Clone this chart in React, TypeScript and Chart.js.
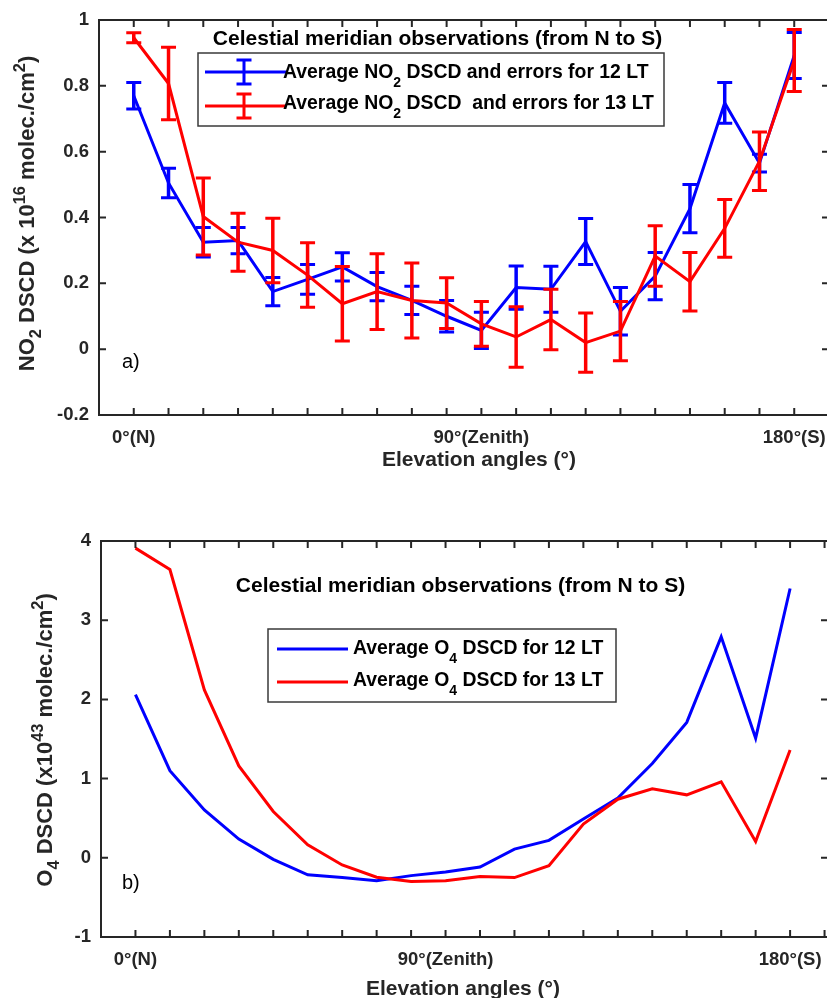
import React, { useEffect, useRef } from 'react';
import { Chart, registerables } from 'chart.js';

Chart.register(...registerables);

// ---------- data ----------
const angleIndex = [1, 2, 3, 4, 5, 6, 7, 8, 9, 10, 11, 12, 13, 14, 15, 16, 17, 18, 19, 20];

const no2Avg12 = [0.77, 0.505, 0.325, 0.33, 0.175, 0.212, 0.25, 0.19, 0.148, 0.1, 0.057, 0.187, 0.182, 0.327, 0.115, 0.222, 0.427, 0.748, 0.565, 0.892];
const no2Err12 = [0.04, 0.045, 0.045, 0.04, 0.043, 0.045, 0.043, 0.043, 0.043, 0.048, 0.055, 0.066, 0.07, 0.07, 0.072, 0.072, 0.073, 0.062, 0.027, 0.07];
const no2Avg13 = [0.946, 0.807, 0.403, 0.325, 0.3, 0.225, 0.138, 0.175, 0.148, 0.14, 0.077, 0.037, 0.09, 0.02, 0.055, 0.283, 0.205, 0.367, 0.571, 0.877];
const no2Err13 = [0.015, 0.11, 0.117, 0.088, 0.098, 0.098, 0.113, 0.115, 0.114, 0.077, 0.068, 0.092, 0.092, 0.09, 0.09, 0.092, 0.089, 0.088, 0.089, 0.094];

const o4Avg12 = [2.06, 1.1, 0.605, 0.237, -0.02, -0.215, -0.25, -0.29, -0.225, -0.18, -0.116, 0.11, 0.22, 0.49, 0.755, 1.19, 1.71, 2.79, 1.51, 3.4];
const o4Avg13 = [3.91, 3.64, 2.12, 1.16, 0.585, 0.164, -0.09, -0.245, -0.3, -0.29, -0.236, -0.25, -0.1, 0.425, 0.74, 0.87, 0.795, 0.96, 0.205, 1.36];

const xTickLabels = ['0°(N)', '90°(Zenith)', '180°(S)'];
const topTickPositions = [1, 11, 20];
const bottomTickPositions = [1, 10, 20];
const tickMarkPositions = [1, 2, 3, 4, 5, 6, 7, 8, 9, 10, 11, 12, 13, 14, 15, 16, 17, 18, 19, 20, 21];
const no2YTicks = [-0.2, 0, 0.2, 0.4, 0.6, 0.8, 1];
const o4YTicks = [-1, 0, 1, 2, 3, 4];

const panelTitle = 'Celestial meridian observations (from N to S)';
const xAxisTitle = 'Elevation angles (°)';

// ---------- styling ----------
const FONT = "'Liberation Sans', Arial, Helvetica, sans-serif";
const AXIS = '#262626';
const BLUE = '#0000ff';
const RED = '#ff0000';

type Part = { t: string; s: number; dy?: number; bold?: boolean };

function partsWidth(ctx: CanvasRenderingContext2D, parts: Part[]) {
  let w = 0;
  for (const p of parts) {
    ctx.font = `${p.bold === false ? '' : 'bold '}${p.s}px ${FONT}`;
    w += ctx.measureText(p.t).width;
  }
  return w;
}

function drawParts(ctx: CanvasRenderingContext2D, parts: Part[], x: number, y: number, align: 'left' | 'center') {
  const total = partsWidth(ctx, parts);
  let cx = align === 'center' ? x - total / 2 : x;
  ctx.textAlign = 'left';
  ctx.textBaseline = 'alphabetic';
  for (const p of parts) {
    ctx.font = `${p.bold === false ? '' : 'bold '}${p.s}px ${FONT}`;
    ctx.fillText(p.t, cx, y + (p.dy || 0));
    cx += ctx.measureText(p.t).width;
  }
}

type LegendRow = { color: string; lineY: number; baseline: number; parts: Part[]; errorBar: boolean };
type Decor = {
  title: { x: number; y: number };
  xTitle: { x: number; y: number };
  yTitle: { x: number; y: number; parts: Part[] };
  panelLabel: { text: string; x: number; y: number };
  legend: { box: [number, number, number, number]; lineX: [number, number]; barX: number; textX: number; rows: LegendRow[] };
  yTicks: number[];
};

function makeDecor(d: Decor) {
  return {
    id: 'decor',
    afterDatasetDraw(chart: any, args: any) {
      const ds = chart.data.datasets[args.index];
      const errs: number[] | undefined = ds.errors;
      if (!errs) return;
      const ctx = chart.ctx as CanvasRenderingContext2D;
      const xs = chart.scales.x;
      const ys = chart.scales.y;
      ctx.save();
      ctx.strokeStyle = ds.borderColor;
      ctx.lineCap = 'butt';
      const cap = 7.5;
      ds.data.forEach((p: any, i: number) => {
        const x = xs.getPixelForValue(p.x);
        const yt = ys.getPixelForValue(p.y + errs[i]);
        const yb = ys.getPixelForValue(p.y - errs[i]);
        ctx.lineWidth = 3.5;
        ctx.beginPath();
        ctx.moveTo(x, yt);
        ctx.lineTo(x, yb);
        ctx.stroke();
        ctx.lineWidth = 3;
        ctx.beginPath();
        ctx.moveTo(x - cap, yt);
        ctx.lineTo(x + cap, yt);
        ctx.moveTo(x - cap, yb);
        ctx.lineTo(x + cap, yb);
        ctx.stroke();
      });
      ctx.restore();
    },
    afterDraw(chart: any) {
      const ctx = chart.ctx as CanvasRenderingContext2D;
      const { left, right, top, bottom } = chart.chartArea;
      const xs = chart.scales.x;
      const ys = chart.scales.y;
      ctx.save();
      // axes box
      ctx.strokeStyle = AXIS;
      ctx.lineWidth = 2;
      ctx.strokeRect(left, top, right - left, bottom - top);
      // inward tick marks
      const tl = 7;
      ctx.beginPath();
      for (const v of tickMarkPositions) {
        const x = xs.getPixelForValue(v);
        ctx.moveTo(x, bottom);
        ctx.lineTo(x, bottom - tl);
        ctx.moveTo(x, top);
        ctx.lineTo(x, top + tl);
      }
      for (const v of d.yTicks) {
        const y = ys.getPixelForValue(v);
        ctx.moveTo(left, y);
        ctx.lineTo(left + tl, y);
        ctx.moveTo(right, y);
        ctx.lineTo(right - tl, y);
      }
      ctx.stroke();

      // panel title inside plot
      ctx.fillStyle = '#000';
      drawParts(ctx, [{ t: panelTitle, s: 21 }], d.title.x, d.title.y, 'center');

      // x axis title
      ctx.fillStyle = AXIS;
      drawParts(ctx, [{ t: xAxisTitle, s: 21 }], d.xTitle.x, d.xTitle.y, 'center');

      // y axis title (rotated)
      ctx.save();
      ctx.translate(d.yTitle.x, d.yTitle.y);
      ctx.rotate(-Math.PI / 2);
      drawParts(ctx, d.yTitle.parts, 0, 0, 'center');
      ctx.restore();

      // panel label
      ctx.fillStyle = '#000';
      drawParts(ctx, [{ t: d.panelLabel.text, s: 20, bold: false }], d.panelLabel.x, d.panelLabel.y, 'left');

      // legend
      const L = d.legend;
      const [bx0, by0, bx1, by1] = L.box;
      ctx.fillStyle = '#fff';
      ctx.fillRect(bx0, by0, bx1 - bx0, by1 - by0);
      ctx.strokeStyle = '#3a3a3a';
      ctx.lineWidth = 1.5;
      ctx.strokeRect(bx0, by0, bx1 - bx0, by1 - by0);
      for (const r of L.rows) {
        ctx.strokeStyle = r.color;
        ctx.lineWidth = 3;
        ctx.beginPath();
        ctx.moveTo(L.lineX[0], r.lineY);
        ctx.lineTo(L.lineX[1], r.lineY);
        if (r.errorBar) {
          const h = 12;
          const c = 7.5;
          ctx.moveTo(L.barX, r.lineY - h);
          ctx.lineTo(L.barX, r.lineY + h);
          ctx.moveTo(L.barX - c, r.lineY - h);
          ctx.lineTo(L.barX + c, r.lineY - h);
          ctx.moveTo(L.barX - c, r.lineY + h);
          ctx.lineTo(L.barX + c, r.lineY + h);
        }
        ctx.stroke();
        ctx.fillStyle = '#000';
        drawParts(ctx, r.parts, L.textX, r.baseline, 'left');
      }
      ctx.restore();
    },
  };
}

function tickFont() {
  return { family: FONT, size: 18.5, weight: 'bold' as const };
}

function buildConfig(opts: {
  avg12: number[];
  avg13: number[];
  err12?: number[];
  err13?: number[];
  yMin: number;
  yMax: number;
  yTicks: number[];
  labelPositions: number[];
  xMax: number;
  yWidth: number;
  xHeight: number;
  padding: { top: number; right: number; bottom: number; left: number };
  decor: Decor;
}) {
  const toPts = (arr: number[]) => angleIndex.map((x, i) => ({ x, y: arr[i] }));
  return {
    type: 'line' as const,
    data: {
      datasets: [
        {
          label: '12 LT',
          data: toPts(opts.avg12),
          borderColor: BLUE,
          backgroundColor: BLUE,
          borderWidth: 3,
          pointRadius: 0,
          tension: 0,
          order: 1,
          errors: opts.err12,
        },
        {
          label: '13 LT',
          data: toPts(opts.avg13),
          borderColor: RED,
          backgroundColor: RED,
          borderWidth: 3,
          pointRadius: 0,
          tension: 0,
          order: 0,
          errors: opts.err13,
        },
      ],
    },
    options: {
      animation: false as const,
      responsive: false,
      events: [] as any[],
      layout: { padding: opts.padding },
      plugins: {
        legend: { display: false },
        tooltip: { enabled: false },
        title: { display: false },
      },
      scales: {
        x: {
          type: 'linear' as const,
          min: 0,
          max: opts.xMax,
          afterBuildTicks: (s: any) => {
            s.ticks = opts.labelPositions.map((v) => ({ value: v }));
          },
          afterFit: (s: any) => {
            s.height = opts.xHeight;
            s.paddingLeft = 0;
            s.paddingRight = 0;
          },
          ticks: {
            autoSkip: false,
            maxRotation: 0,
            padding: 12,
            color: AXIS,
            font: tickFont(),
            callback: (v: any) => {
              const idx = opts.labelPositions.indexOf(Number(v));
              return idx >= 0 ? xTickLabels[idx] : '';
            },
          },
          grid: { display: false, drawTicks: false },
          border: { display: false },
        },
        y: {
          type: 'linear' as const,
          min: opts.yMin,
          max: opts.yMax,
          afterBuildTicks: (s: any) => {
            s.ticks = opts.yTicks.map((v) => ({ value: v }));
          },
          afterFit: (s: any) => {
            s.width = opts.yWidth;
            s.paddingTop = 0;
            s.paddingBottom = 0;
          },
          ticks: {
            padding: 10,
            color: AXIS,
            font: tickFont(),
            callback: (v: any) => String(v),
          },
          grid: { display: false, drawTicks: false },
          border: { display: false },
        },
      },
    },
    plugins: [makeDecor(opts.decor)],
  };
}

const TOP_H = 480;
const BOTTOM_H = 518;
const CANVAS_W = 830;

export default function App() {
  const topRef = useRef<HTMLCanvasElement | null>(null);
  const botRef = useRef<HTMLCanvasElement | null>(null);

  useEffect(() => {
    if (!topRef.current || !botRef.current) return;

    const topDecor: Decor = {
      title: { x: 437.5, y: 45 },
      xTitle: { x: 479, y: 465.5 },
      yTitle: {
        x: 34,
        y: 213.5,
        parts: [
          { t: 'NO', s: 22 },
          { t: '2', s: 16.5, dy: 7 },
          { t: ' DSCD (x 10', s: 22 },
          { t: '16', s: 16.5, dy: -9.5 },
          { t: ' molec./cm', s: 22 },
          { t: '2', s: 16.5, dy: -9.5 },
          { t: ')', s: 22 },
        ],
      },
      panelLabel: { text: 'a)', x: 122, y: 368 },
      legend: {
        box: [198, 53, 664, 126],
        lineX: [205, 286],
        barX: 244,
        textX: 283,
        rows: [
          {
            color: BLUE,
            lineY: 72,
            baseline: 77.5,
            errorBar: true,
            parts: [
              { t: 'Average NO', s: 19.4 },
              { t: '2', s: 14, dy: 9 },
              { t: ' DSCD and errors for 12 LT', s: 19.4 },
            ],
          },
          {
            color: RED,
            lineY: 106,
            baseline: 109,
            errorBar: true,
            parts: [
              { t: 'Average NO', s: 19.4 },
              { t: '2', s: 14, dy: 9 },
              { t: ' DSCD  and errors for 13 LT', s: 19.4 },
            ],
          },
        ],
      },
      yTicks: no2YTicks,
    };

    const off = TOP_H;
    const botDecor: Decor = {
      title: { x: 460.5, y: 591.5 - off },
      xTitle: { x: 463, y: 995 - off },
      yTitle: {
        x: 52,
        y: 740 - off,
        parts: [
          { t: 'O', s: 22 },
          { t: '4', s: 16.5, dy: 7 },
          { t: ' DSCD (x10', s: 22 },
          { t: '43', s: 16.5, dy: -9.5 },
          { t: ' molec./cm', s: 22 },
          { t: '2', s: 16.5, dy: -9.5 },
          { t: ')', s: 22 },
        ],
      },
      panelLabel: { text: 'b)', x: 122, y: 889 - off },
      legend: {
        box: [268, 629 - off, 616, 702 - off],
        lineX: [277, 348],
        barX: 0,
        textX: 353,
        rows: [
          {
            color: BLUE,
            lineY: 649 - off,
            baseline: 653.5 - off,
            errorBar: false,
            parts: [
              { t: 'Average O', s: 19.4 },
              { t: '4', s: 14, dy: 9 },
              { t: ' DSCD for 12 LT', s: 19.4 },
            ],
          },
          {
            color: RED,
            lineY: 682 - off,
            baseline: 686 - off,
            errorBar: false,
            parts: [
              { t: 'Average O', s: 19.4 },
              { t: '4', s: 14, dy: 9 },
              { t: ' DSCD for 13 LT', s: 19.4 },
            ],
          },
        ],
      },
      yTicks: o4YTicks,
    };

    const topChart = new Chart(
      topRef.current,
      buildConfig({
        avg12: no2Avg12,
        avg13: no2Avg13,
        err12: no2Err12,
        err13: no2Err13,
        yMin: -0.2,
        yMax: 1,
        yTicks: no2YTicks,
        labelPositions: topTickPositions,
        xMax: 21,
        yWidth: 99,
        xHeight: 53,
        padding: { top: 20, right: 1, bottom: 12, left: 0 },
        decor: topDecor,
      }) as any
    );

    const botChart = new Chart(
      botRef.current,
      buildConfig({
        avg12: o4Avg12,
        avg13: o4Avg13,
        yMin: -1,
        yMax: 4,
        yTicks: o4YTicks,
        labelPositions: bottomTickPositions,
        xMax: 21.1,
        yWidth: 101,
        xHeight: 61,
        padding: { top: 61, right: 2, bottom: 0, left: 0 },
        decor: botDecor,
      }) as any
    );

    return () => {
      topChart.destroy();
      botChart.destroy();
    };
  }, []);

  return (
    <div
      style={{
        position: 'absolute',
        left: 0,
        top: 0,
        width: 827,
        height: 998,
        overflow: 'hidden',
        background: '#fff',
      }}
    >
      <canvas
        ref={topRef}
        width={CANVAS_W}
        height={TOP_H}
        style={{ position: 'absolute', left: 0, top: 0, width: CANVAS_W, height: TOP_H }}
      />
      <canvas
        ref={botRef}
        width={CANVAS_W}
        height={BOTTOM_H}
        style={{ position: 'absolute', left: 0, top: TOP_H, width: CANVAS_W, height: BOTTOM_H }}
      />
    </div>
  );
}
